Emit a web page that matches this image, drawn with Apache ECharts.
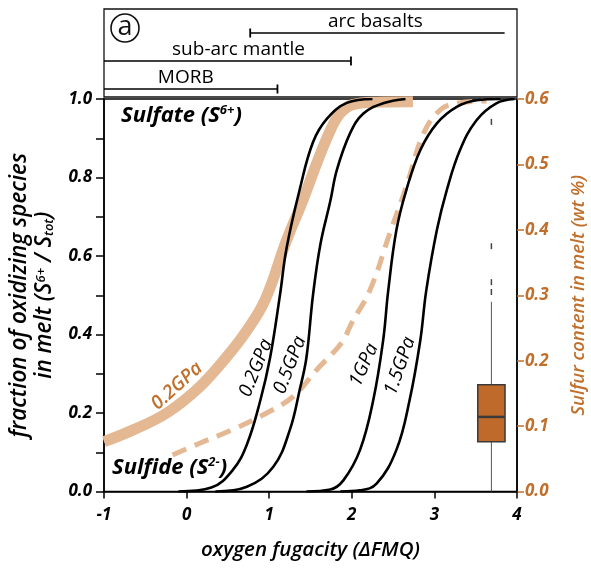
<!DOCTYPE html>
<html><head><meta charset="utf-8">
<script src="https://cdn.jsdelivr.net/npm/echarts@6/dist/echarts.min.js"></script>
<style>html,body{margin:0;padding:0;background:#fff}#c{width:591px;height:571px}</style>
</head><body><div id="c"></div>
<script>
// ---- data ----
const xTickLabels = ['-1','0','1','2','3','4'];
const leftTickLabels = ['0.0','0.2','0.4','0.6','0.8','1.0'];
const rightTickLabels = ['0.0','0.1','0.2','0.3','0.4','0.5','0.6'];

const c02x = [-0.1, 0.3, 0.56, 0.73, 0.89, 1.01, 1.13, 1.21, 1.37, 1.53, 1.70, 1.94, 2.25];
const c02y = [0, 0.01, 0.055, 0.12, 0.23, 0.34, 0.50, 0.62, 0.77, 0.89, 0.95, 0.99, 1.0];
const c05x = [0.35, 0.73, 1.05, 1.25, 1.37, 1.45, 1.53, 1.62, 1.74, 1.82, 1.98, 2.14, 2.38, 2.65];
const c05y = [0, 0.012, 0.063, 0.157, 0.26, 0.34, 0.50, 0.63, 0.74, 0.82, 0.913, 0.963, 0.989, 1.0];
const c10x = [1.45, 1.74, 1.90, 2.10, 2.26, 2.38, 2.44, 2.54, 2.66, 2.83, 3.03, 3.27, 3.51, 3.8];
const c10y = [0, 0.005, 0.029, 0.106, 0.233, 0.386, 0.51, 0.666, 0.768, 0.87, 0.938, 0.98, 0.997, 1.0];
const c15x = [1.86, 2.10, 2.30, 2.54, 2.70, 2.83, 2.90, 3.03, 3.15, 3.31, 3.51, 3.75, 3.97];
const c15y = [0, 0.003, 0.02, 0.106, 0.233, 0.386, 0.51, 0.666, 0.768, 0.87, 0.946, 0.989, 1.0];

const tanX = [-1, -0.646, -0.24, 0.16, 0.485, 0.728, 0.95, 1.21, 1.41, 1.575, 1.74, 1.857, 2.0, 2.3, 2.74];
const tanY = [0.127, 0.157, 0.2, 0.267, 0.343, 0.41, 0.488, 0.64, 0.743, 0.836, 0.92, 0.963, 0.985, 0.992, 0.993];
const dashX = [-0.17, 0.16, 0.55, 0.97, 1.29, 1.575, 1.88, 2.0, 2.22, 2.46, 2.66, 2.87, 3.07, 3.27, 3.63];
const dashY = [0.093, 0.123, 0.157, 0.2, 0.242, 0.31, 0.38, 0.43, 0.513, 0.658, 0.777, 0.913, 0.972, 0.989, 0.995];

// boxplot of sulfur content (wt %): [x, min, Q1, median, Q3, max]
const boxStats = [3.69, 0.0, 0.076, 0.114, 0.163, 0.29];
const boxOutliers = [0.305, 0.32, 0.375, 0.565];

// top panel ranges
const rangeNames = ['arc basalts', 'sub-arc mantle', 'MORB'];
const rangeStart = [0.77, -1, -1];
const rangeEnd = [3.85, 1.99, 1.1];
const rangeLevel = [3, 2, 1];
const rangeTickStart = [true, false, false];
const rangeTickEnd = [false, true, true];

// ---- build ----
const TAN = '#e4b893', ORANGE = '#c0702c', BOX = '#bf6a2a';
const FONT = '"Open Sans", "DejaVu Sans", sans-serif';
const zip = (a, b) => a.map((v, i) => [v, b[i]]);
const labelShift = [-2, 11, -5];

const blackLine = (xs, ys) => ({
  type: 'line', xAxisIndex: 0, yAxisIndex: 0, data: zip(xs, ys), showSymbol: false,
  smooth: 0.4, lineStyle: {color: '#000', width: 2.6}, z: 5, silent: true
});

const rangeSeries = rangeNames.map((n, i) => ({
  type: 'line', xAxisIndex: 1, yAxisIndex: 2, silent: true,
  data: [
    {value: [rangeStart[i], rangeLevel[i]], symbol: rangeTickStart[i] ? 'rect' : 'none'},
    {value: [rangeEnd[i], rangeLevel[i]], symbol: rangeTickEnd[i] ? 'rect' : 'none'}
  ],
  symbolSize: [1.8, 9], itemStyle: {color: '#000', opacity: 1},
  lineStyle: {color: '#000', width: 1.5, opacity: 1}
}));
const rangeLabels = {
  type: 'scatter', xAxisIndex: 1, yAxisIndex: 2, silent: true, symbolSize: 0,
  itemStyle: {opacity: 1},
  data: rangeNames.map((n, i) => ({name: n, value: [(rangeStart[i] + rangeEnd[i]) / 2, rangeLevel[i]],
    label: {offset: [labelShift[i], 0]}})),
  label: {show: true, position: 'top', distance: 2, formatter: p => p.name,
    color: '#000', opacity: 1, fontSize: 19, fontFamily: FONT}
};

const option = {
  animation: false,
  grid: [
    {left: 104, top: 99, width: 413, height: 392.5, show: true, borderColor: '#000', borderWidth: 1.5, outerBoundsMode: 'none', containLabel: false},
    {left: 104, top: 9, width: 413, height: 88, show: true, borderColor: '#111', borderWidth: 1.3, outerBoundsMode: 'none', containLabel: false}
  ],
  xAxis: [
    {type: 'value', gridIndex: 0, min: -1, max: 4, interval: 1,
     axisLine: {lineStyle: {color: '#000', width: 1.5}},
     axisTick: {show: true, inside: false, length: 7, lineStyle: {color: '#000', width: 1.5}},
     splitLine: {show: false},
     axisLabel: {color: '#000', fontSize: 17, fontStyle: 'italic', fontWeight: 'bold', fontFamily: FONT, margin: 15,
       formatter: v => xTickLabels[Math.round(v) + 1]},
     name: 'oxygen fugacity (ΔFMQ)', nameLocation: 'middle', nameGap: 49,
     nameTextStyle: {color: '#000', fontSize: 20.5, fontStyle: 'italic', fontWeight: 600, fontFamily: FONT}},
    {type: 'value', gridIndex: 1, min: -1, max: 4, show: false}
  ],
  yAxis: [
    {type: 'value', gridIndex: 0, min: 0, max: 1, interval: 0.2,
     axisLine: {show: true, onZero: false, lineStyle: {color: '#000', width: 1.5}},
     axisTick: {show: true, length: 8, lineStyle: {color: '#000', width: 1.5}},
     minorTick: {show: true, splitNumber: 2, length: 8, lineStyle: {color: '#000', width: 1.5}},
     splitLine: {show: false},
     axisLabel: {color: '#000', fontSize: 17, fontStyle: 'italic', fontWeight: 'bold', fontFamily: FONT, margin: 12,
       formatter: v => leftTickLabels[Math.round(v * 5)]},
     name: 'fraction of oxidizing species\nin melt (S{sup|6+} / S{sub|tot})',
     nameLocation: 'middle', nameRotate: 90, nameGap: 46,
     nameTextStyle: {color: '#000', fontSize: 22.5, fontStyle: 'italic', fontWeight: 600, fontFamily: FONT, lineHeight: 25,
       rich: {
         sup: {fontSize: 13, fontStyle: 'italic', fontWeight: 600, fontFamily: FONT, verticalAlign: 'top', lineHeight: 25, padding: [2,0,0,0]},
         sub: {fontSize: 13, fontStyle: 'italic', fontWeight: 600, fontFamily: FONT, verticalAlign: 'bottom', lineHeight: 25, padding: [0,0,2,0]}
       }}},
    {type: 'value', gridIndex: 0, min: 0, max: 0.6, interval: 0.1, position: 'right',
     axisLine: {show: true, onZero: false, lineStyle: {color: '#000', width: 1.5}},
     axisTick: {show: true, length: 7, lineStyle: {color: ORANGE, width: 1.5}},
     splitLine: {show: false},
     axisLabel: {color: ORANGE, fontSize: 17, fontStyle: 'italic', fontWeight: 'bold', fontFamily: FONT, margin: 8,
       formatter: v => rightTickLabels[Math.round(v * 10)]},
     name: 'Sulfur content in melt (wt %)', nameLocation: 'middle', nameRotate: 90, nameGap: 52,
     nameTextStyle: {color: ORANGE, fontSize: 18.5, fontStyle: 'italic', fontWeight: 600, fontFamily: FONT}},
    {type: 'value', gridIndex: 1, min: 0.714, max: 3.857, show: false}
  ],
  series: [
    {type: 'line', xAxisIndex: 0, yAxisIndex: 0, data: zip(tanX, tanY), showSymbol: false,
     smooth: 0.4, lineStyle: {color: TAN, width: 11, cap: 'butt'}, z: 2, silent: true},
    {type: 'line', xAxisIndex: 0, yAxisIndex: 0, data: zip(dashX, dashY), showSymbol: false,
     smooth: 0.4, lineStyle: {color: TAN, width: 5, type: [15, 9]}, z: 2, silent: true},
    blackLine(c02x, c02y), blackLine(c05x, c05y), blackLine(c10x, c10y), blackLine(c15x, c15y),
    {type: 'custom', xAxisIndex: 0, yAxisIndex: 1, silent: true, z: 6,
     data: [boxStats],
     renderItem: (params, api) => {
       const x = api.value(0);
       const pMin = api.coord([x, api.value(1)]);
       const pQ1 = api.coord([x, api.value(2)]);
       const pMed = api.coord([x, api.value(3)]);
       const pQ3 = api.coord([x, api.value(4)]);
       const pMax = api.coord([x, api.value(5)]);
       const w = api.size([0.33, 0])[0];
       return {type: 'group', children: [
         {type: 'line', shape: {x1: pMin[0], y1: pMin[1], x2: pMax[0], y2: pMax[1]}, style: {stroke: '#555', lineWidth: 1}},
         {type: 'rect', shape: {x: pQ3[0] - w / 2, y: pQ3[1], width: w, height: pQ1[1] - pQ3[1]},
          style: {fill: BOX, stroke: '#3a3a3a', lineWidth: 1.5}},
         {type: 'line', shape: {x1: pMed[0] - w / 2, y1: pMed[1], x2: pMed[0] + w / 2, y2: pMed[1]}, style: {stroke: '#3a3a3a', lineWidth: 2.5}}
       ]};
     }},
    {type: 'scatter', xAxisIndex: 0, yAxisIndex: 1, silent: true, symbol: 'rect', symbolSize: [1.5, 6],
     itemStyle: {color: '#444', opacity: 1}, data: boxOutliers.map(v => [boxStats[0], v]), z: 6},
    ...rangeSeries, rangeLabels
  ],
  graphic: [
    {type: 'circle', shape: {cx: 125, cy: 28, r: 14}, style: {fill: 'none', stroke: '#111', lineWidth: 1.6}},
    {type: 'text', x: 125, y: 27, style: {text: 'a', fontSize: 27, fontFamily: FONT, fill: '#111', align: 'center', verticalAlign: 'middle'}},
    {type: 'text', x: 121, y: 116, style: {text: 'Sulfate (S{sup|6+})', fontSize: 22, fontStyle: 'italic', fontWeight: 'bold', fontFamily: FONT, fill: '#000', verticalAlign: 'middle', lineHeight: 26,
      rich: {sup: {fontSize: 13, fontStyle: 'italic', fontWeight: 'bold', fontFamily: FONT, verticalAlign: 'top', lineHeight: 26, padding: [1,0,0,0]}}}},
    {type: 'text', x: 112, y: 468, style: {text: 'Sulfide (S{sup|2-})', fontSize: 22, fontStyle: 'italic', fontWeight: 'bold', fontFamily: FONT, fill: '#000', verticalAlign: 'middle', lineHeight: 26,
      rich: {sup: {fontSize: 13, fontStyle: 'italic', fontWeight: 'bold', fontFamily: FONT, verticalAlign: 'top', lineHeight: 26, padding: [1,0,0,0]}}}},
    {type: 'text', x: 256, y: 368, rotation: 68 * Math.PI / 180, style: {text: '0.2GPa', fontSize: 19, fontStyle: 'italic', fontWeight: 500, fontFamily: FONT, fill: '#000', align: 'center', verticalAlign: 'middle'}},
    {type: 'text', x: 290, y: 365, rotation: 69 * Math.PI / 180, style: {text: '0.5GPa', fontSize: 19, fontStyle: 'italic', fontWeight: 500, fontFamily: FONT, fill: '#000', align: 'center', verticalAlign: 'middle'}},
    {type: 'text', x: 364, y: 365, rotation: 66 * Math.PI / 180, style: {text: '1GPa', fontSize: 19, fontStyle: 'italic', fontWeight: 500, fontFamily: FONT, fill: '#000', align: 'center', verticalAlign: 'middle'}},
    {type: 'text', x: 400, y: 366, rotation: 71 * Math.PI / 180, style: {text: '1.5GPa', fontSize: 19, fontStyle: 'italic', fontWeight: 500, fontFamily: FONT, fill: '#000', align: 'center', verticalAlign: 'middle'}},
    {type: 'text', x: 177, y: 386, rotation: 42 * Math.PI / 180, style: {text: '0.2GPa', fontSize: 19, fontStyle: 'italic', fontWeight: 600, fontFamily: FONT, fill: ORANGE, align: 'center', verticalAlign: 'middle'}}
  ]
};
const chart = echarts.init(document.getElementById('c'), null, {renderer: 'canvas'});
chart.setOption(option);
</script></body></html>
